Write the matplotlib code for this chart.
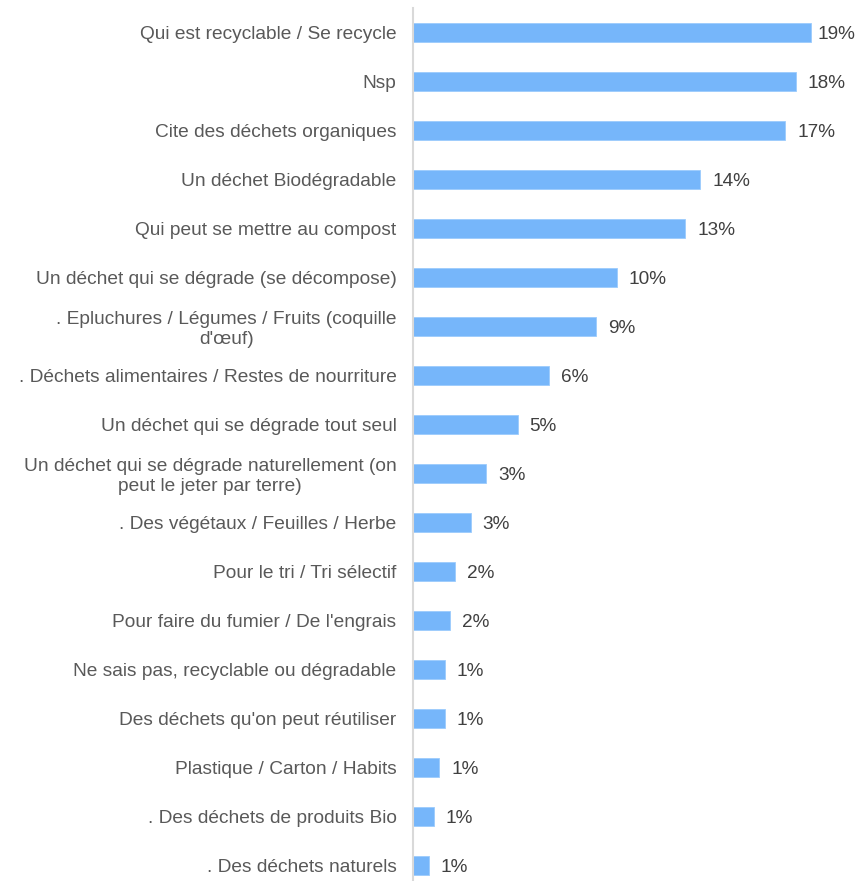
import matplotlib.pyplot as plt

plt.rcParams['font.family'] = ['Liberation Sans', 'DejaVu Sans']

categories = [
    "Qui est recyclable / Se recycle",
    "Nsp",
    "Cite des déchets organiques",
    "Un déchet Biodégradable",
    "Qui peut se mettre au compost",
    "Un déchet qui se dégrade (se décompose)",
    ". Epluchures / Légumes / Fruits (coquille\nd'œuf)",
    ". Déchets alimentaires / Restes de nourriture",
    "Un déchet qui se dégrade tout seul",
    "Un déchet qui se dégrade naturellement (on\npeut le jeter par terre)",
    ". Des végétaux / Feuilles / Herbe",
    "Pour le tri / Tri sélectif",
    "Pour faire du fumier / De l'engrais",
    "Ne sais pas, recyclable ou dégradable",
    "Des déchets qu'on peut réutiliser",
    "Plastique / Carton / Habits",
    ". Des déchets de produits Bio",
    ". Des déchets naturels",
]
values = [19.0, 18.26, 17.77, 13.72, 13.0, 9.72, 8.73, 6.47, 4.99,
          3.49, 2.74, 1.99, 1.74, 1.5, 1.5, 1.24, 0.99, 0.75]
value_labels = ["19%", "18%", "17%", "14%", "13%", "10%", "9%", "6%", "5%",
                "3%", "3%", "2%", "2%", "1%", "1%", "1%", "1%", "1%"]

fig = plt.figure(figsize=(8.59, 8.81), dpi=100)
ax = fig.add_axes([0.481, -0.0102, 0.489, 882 / 881])

y = list(range(len(categories)))
ax.barh(y, values, height=0.4, color="#76b6fa", edgecolor="#9ccbfc", linewidth=0.6)

# labels sit a bit right of the bar, but are pushed in near the right edge
for yi, v, lab in zip(y, values, value_labels):
    ax.text(min(v + 0.57, 19.3), yi + 0.05, lab, va="center", ha="left",
            fontsize=13.7, color="#404040")

ax.set_yticks(y)
ax.set_yticklabels(categories, fontsize=13.8, color="#595959", multialignment="center")
ax.tick_params(axis="y", length=0, pad=12)
ax.set_xticks([])
ax.set_xlim(0, 20.06)
ax.set_ylim(17.5, -0.5)

for s in ["top", "right", "bottom"]:
    ax.spines[s].set_visible(False)
ax.spines["left"].set_color("#d9d9d9")
ax.spines["left"].set_linewidth(1.5)

fig.savefig("out.png", dpi=100, facecolor="white")
